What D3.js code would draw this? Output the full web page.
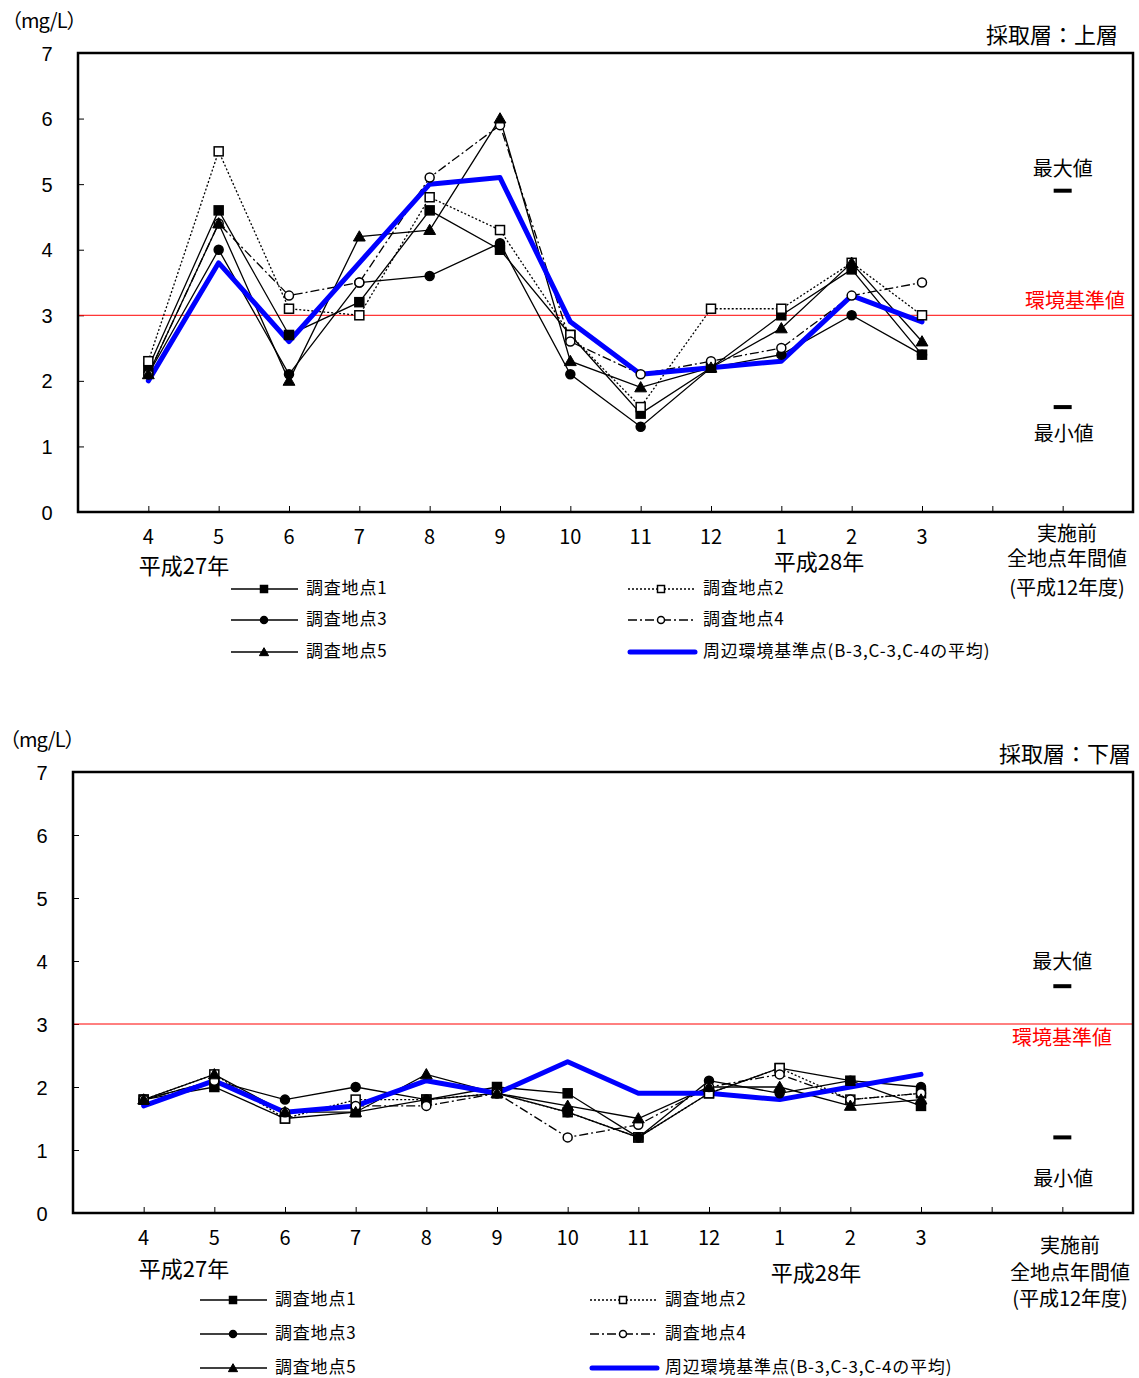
<!DOCTYPE html>
<html>
<head>
<meta charset="utf-8">
<script src="https://cdn.jsdelivr.net/npm/d3@7"></script>
<style>
  body { margin: 0; background: #fff; }
  svg { font-family: "Noto Sans CJK JP", "Noto Sans", sans-serif; }
</style>
</head>
<body>
<svg id="chart" width="1139" height="1378"></svg>
<script>
// months on x axis (index 0..11 -> slot 1..12), slot 14 = 実施前
const months = ["4", "5", "6", "7", "8", "9", "10", "11", "12", "1", "2", "3"]
const seriesNames = ["調査地点1", "調査地点2", "調査地点3", "調査地点4", "調査地点5", "周辺環境基準点(B-3,C-3,C-4の平均)"]
const yTicks = [0, 1, 2, 3, 4, 5, 6, 7]
const standardValue = 3

// 上層
const upper1 = [2.2, 4.6, 2.7, 3.2, 4.6, 4.0, 2.7, 1.5, 2.2, 3.0, 3.7, 2.4]
const upper2 = [2.3, 5.5, 3.1, 3.0, 4.8, 4.3, 2.7, 1.6, 3.1, 3.1, 3.8, 3.0]
const upper3 = [2.1, 4.0, 2.1, 3.5, 3.6, 4.1, 2.1, 1.3, 2.2, 2.4, 3.0, 2.4]
const upper4 = [2.1, 4.4, 3.3, 3.5, 5.1, 5.9, 2.6, 2.1, 2.3, 2.5, 3.3, 3.5]
const upper5 = [2.1, 4.4, 2.0, 4.2, 4.3, 6.0, 2.3, 1.9, 2.2, 2.8, 3.8, 2.6]
const upperRef = [2.0, 3.8, 2.6, 3.8, 5.0, 5.1, 2.9, 2.1, 2.2, 2.3, 3.3, 2.9]
const upperMax = 4.9
const upperMin = 1.6

// 下層
const lower1 = [1.8, 2.0, 1.5, 1.6, 1.8, 2.0, 1.9, 1.2, 1.9, 2.3, 2.1, 1.7]
const lower2 = [1.8, 2.2, 1.5, 1.8, 1.8, 1.9, 1.6, 1.2, 1.9, 2.3, 1.8, 1.9]
const lower3 = [1.8, 2.1, 1.8, 2.0, 1.8, 1.9, 1.6, 1.2, 2.1, 1.9, 2.1, 2.0]
const lower4 = [1.8, 2.1, 1.6, 1.7, 1.7, 1.9, 1.2, 1.4, 2.0, 2.2, 1.8, 1.9]
const lower5 = [1.8, 2.2, 1.6, 1.6, 2.2, 1.9, 1.7, 1.5, 2.0, 2.0, 1.7, 1.8]
const lowerRef = [1.7, 2.1, 1.6, 1.7, 2.1, 1.9, 2.4, 1.9, 1.9, 1.8, 2.0, 2.2]
const lowerMax = 3.6
const lowerMin = 1.2

const styles = [
  {marker: "square", fill: "#000", dash: null},
  {marker: "square", fill: "#fff", dash: "2,2"},
  {marker: "circle", fill: "#000", dash: null},
  {marker: "circle", fill: "#fff", dash: "9,3,2,3"},
  {marker: "triangle", fill: "#000", dash: null},
]

const svg = d3.select("#chart")

function drawMarker(g, type, fill, x, y, s) {
  if (type === "square") {
    g.append("rect").attr("x", x - s / 2).attr("y", y - s / 2).attr("width", s).attr("height", s)
      .attr("fill", fill).attr("stroke", "#000").attr("stroke-width", 1.5)
  } else if (type === "circle") {
    g.append("circle").attr("cx", x).attr("cy", y).attr("r", s / 2)
      .attr("fill", fill).attr("stroke", "#000").attr("stroke-width", 1.5)
  } else {
    const sym = d3.symbol(d3.symbolTriangle, s * s * 0.75)
    g.append("path").attr("d", sym()).attr("transform", `translate(${x},${y + 1})`)
      .attr("fill", fill).attr("stroke", "#000")
  }
}

function drawChart(c) {
  const g = svg.append("g")
  const x = d3.scaleLinear([0, 15], [c.left, c.right])
  const y = d3.scaleLinear([0, 7], [c.bottom, c.top])

  // y axis (inward ticks)
  const yAxis = g.append("g").attr("transform", `translate(${c.left},0)`)
    .call(d3.axisLeft(y).tickValues(yTicks).tickFormat(d3.format("d")).tickSize(-6).tickPadding(0))
  yAxis.select(".domain").remove()
  yAxis.selectAll("line").attr("stroke", "#000")
  yAxis.selectAll("text").attr("x", -c.yLabelOff).attr("text-anchor", "middle")
    .attr("dy", "0.35em").style("font-size", "20px").attr("fill", "#000")

  // x axis ticks (inward)
  const xAxis = g.append("g").attr("transform", `translate(0,${c.bottom})`)
    .call(d3.axisBottom(x).tickValues(d3.range(1, 15)).tickSize(-6).tickFormat(""))
  xAxis.select(".domain").remove()
  xAxis.selectAll("line").attr("stroke", "#000")

  g.selectAll(".month").data(months).join("text")
    .attr("x", (d, i) => x(i + 1)).attr("y", c.bottom + 32)
    .attr("text-anchor", "middle").style("font-size", "20px").text(d => d)

  // standard line
  g.append("line").attr("x1", c.left).attr("x2", c.right)
    .attr("y1", y(standardValue)).attr("y2", y(standardValue))
    .attr("stroke", "#ff0000").attr("stroke-width", 1)

  // series
  const line = d3.line().x((d, i) => x(i + 1)).y(d => y(d))
  c.series.forEach((vals, k) => {
    const st = styles[k]
    g.append("path").attr("d", line(vals)).attr("fill", "none")
      .attr("stroke", "#000").attr("stroke-width", 1.3)
      .attr("stroke-dasharray", st.dash)
  })
  g.append("path").attr("d", line(c.ref)).attr("fill", "none")
    .attr("stroke", "#0000ff").attr("stroke-width", 5).attr("stroke-linejoin", "round")
    .attr("stroke-linecap", "round")
  c.series.forEach((vals, k) => {
    const st = styles[k]
    const mg = g.append("g")
    vals.forEach((v, i) => drawMarker(mg, st.marker, st.fill, x(i + 1), y(v), 9))
  })

  // max / min of before-period
  const xp = x(14)
  g.append("rect").attr("x", xp - 9).attr("y", y(c.max) - 2).attr("width", 18).attr("height", 4).attr("fill", "#000")
  g.append("rect").attr("x", xp - 9).attr("y", y(c.min) - 2).attr("width", 18).attr("height", 4).attr("fill", "#000")
  g.append("text").attr("x", xp).attr("y", y(c.max) + c.maxLabelDy).attr("text-anchor", "middle")
    .style("font-size", "20px").text("最大値")
  g.append("text").attr("x", xp + 1).attr("y", y(c.min) + c.minLabelDy).attr("text-anchor", "middle")
    .style("font-size", "20px").text("最小値")

  g.append("text").attr("x", c.stdLabelX).attr("y", y(standardValue) + c.stdLabelDy).attr("text-anchor", "end")
    .attr("fill", "#ff0000").style("font-size", "20px").text("環境基準値")

  // frame
  g.append("rect").attr("x", c.left).attr("y", c.top)
    .attr("width", c.right - c.left).attr("height", c.bottom - c.top)
    .attr("fill", "none").attr("stroke", "#000").attr("stroke-width", 2.5)

  // texts
  g.append("text").attr("x", c.unitX).attr("y", c.top - 25).style("font-size", "20px").text("（mg/L）")
    .attr("letter-spacing", -1)
  g.append("text").attr("x", c.layerX).attr("y", c.top - 10).attr("text-anchor", "end")
    .style("font-size", "22px").text(c.layer)
  g.append("text").attr("x", c.year1X).attr("y", c.bottom + c.year1Dy).attr("text-anchor", "middle")
    .style("font-size", "22px").text("平成27年")
  g.append("text").attr("x", c.year2X).attr("y", c.bottom + c.year2Dy).attr("text-anchor", "middle")
    .style("font-size", "22px").text("平成28年")
  const pre = ["実施前", "全地点年間値", "(平成12年度)"]
  pre.forEach((t, i) => {
    g.append("text").attr("x", c.preX).attr("y", c.bottom + c.preDy[i]).attr("text-anchor", "middle")
      .style("font-size", "20px").text(t)
  })

  // legend
  const lg = g.append("g")
  const rows = [[0, 1], [2, 3], [4, 5]]
  rows.forEach((pair, r) => {
    pair.forEach((k, col) => {
      const ly = c.legendY[r]
      const lx0 = c.legendX[col]
      if (k < 5) {
        const st = styles[k]
        lg.append("line").attr("x1", lx0).attr("x2", lx0 + 67).attr("y1", ly).attr("y2", ly)
          .attr("stroke", "#000").attr("stroke-width", 1.3).attr("stroke-dasharray", st.dash)
        drawMarker(lg, st.marker, st.fill, lx0 + 33, ly, 7)
      } else {
        lg.append("line").attr("x1", lx0 + 2).attr("x2", lx0 + 67).attr("y1", ly).attr("y2", ly)
          .attr("stroke", "#0000ff").attr("stroke-width", 5).attr("stroke-linecap", "round")
      }
      lg.append("text").attr("x", lx0 + 75).attr("y", ly + 5).style("font-size", "17px")
        .attr("letter-spacing", 0.8).text(seriesNames[k])
    })
  })
}

drawChart({
  left: 78, right: 1133, top: 53, bottom: 512, yLabelOff: 31,
  series: [upper1, upper2, upper3, upper4, upper5], ref: upperRef,
  max: upperMax, min: upperMin, maxLabelDy: -15, minLabelDy: 34,
  stdLabelX: 1125, stdLabelDy: -7,
  unitX: 2, layerX: 1118, layer: "採取層：上層",
  year1X: 184, year1Dy: 62, year2X: 819, year2Dy: 58,
  preX: 1067, preDy: [29, 54, 83],
  legendX: [231, 628], legendY: [589, 620, 652]
})

drawChart({
  left: 73, right: 1133, top: 772, bottom: 1213, yLabelOff: 31,
  series: [lower1, lower2, lower3, lower4, lower5], ref: lowerRef,
  max: lowerMax, min: lowerMin, maxLabelDy: -17, minLabelDy: 49,
  stdLabelX: 1112, stdLabelDy: 21,
  unitX: 0, layerX: 1131, layer: "採取層：下層",
  year1X: 184, year1Dy: 64, year2X: 816, year2Dy: 68,
  preX: 1070, preDy: [40, 67, 93],
  legendX: [200, 590], legendY: [1300, 1334, 1368]
})
</script>
</body>
</html>
